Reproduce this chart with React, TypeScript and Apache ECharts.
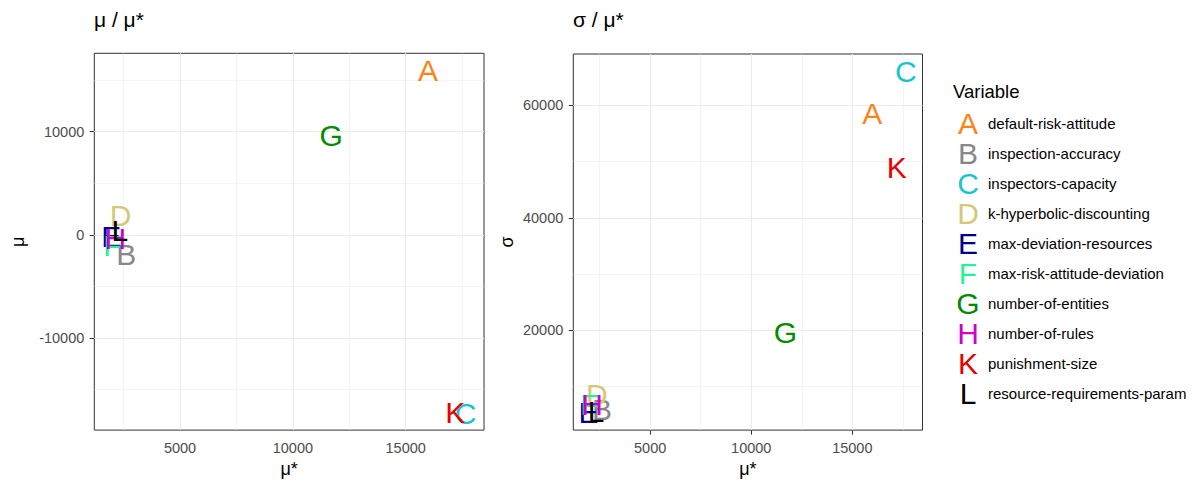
import React, { useEffect, useRef } from 'react';
import * as echarts from 'echarts';

const letters = ['A', 'B', 'C', 'D', 'E', 'F', 'G', 'H', 'K', 'L'];
const variables = [
  'default-risk-attitude',
  'inspection-accuracy',
  'inspectors-capacity',
  'k-hyperbolic-discounting',
  'max-deviation-resources',
  'max-risk-attitude-deviation',
  'number-of-entities',
  'number-of-rules',
  'punishment-size',
  'resource-requirements-param',
];
const colors = ['#FA8418', '#888888', '#17C6CC', '#D3C97A', '#000088', '#22F29A', '#008B00', '#CD00CD', '#E80000', '#000000'];

const muStar = [15990, 2620, 17650, 2360, 1950, 2000, 11695, 2130, 17200, 2330];
const mu = [15885, -1914, -17320, 1914, -140, -1000, 9665, -380, -17225, 430];
const sigma = [58630, 5900, 66100, 8500, 5300, 6800, 19600, 6850, 48915, 5540];

const xTicks = [5000, 10000, 15000];
const xMinor = [2500, 7500, 12500, 17500];
const muTicks = [-10000, 0, 10000];
const muMinor = [-15000, -5000, 5000, 15000];
const sigmaTicks = [20000, 40000, 60000];
const sigmaMinor = [10000, 30000, 50000];

const xRange = [1200, 18470];
const muRange = [-18919, 17579];
const sigmaRange = [2255, 69141];

const FONT = '"Liberation Sans", Arial, sans-serif';

function makeXAxis(gridIndex: number) {
  return {
    gridIndex,
    type: 'value',
    min: xRange[0],
    max: xRange[1],
    name: 'μ*',
    nameLocation: 'middle',
    nameGap: 27,
    nameTextStyle: { fontSize: 18, color: '#000', fontFamily: FONT },
    axisLine: { show: false },
    axisTick: { show: true, length: 4.5, lineStyle: { color: '#333', width: 1 }, customValues: xTicks },
    axisLabel: { customValues: xTicks, color: '#4d4d4d', fontSize: 14.5, fontFamily: FONT, margin: 10, formatter: (v: number) => String(v) },
    splitLine: { show: false },
  };
}

function makeYAxis(gridIndex: number, name: string, range: number[], ticks: number[], gap: number) {
  return {
    gridIndex,
    type: 'value',
    min: range[0],
    max: range[1],
    name,
    nameLocation: 'middle',
    nameGap: gap,
    nameTextStyle: { fontSize: 18, color: '#000', fontFamily: FONT },
    axisLine: { show: false },
    axisTick: { show: true, length: 4.5, lineStyle: { color: '#333', width: 1 }, customValues: ticks },
    axisLabel: { customValues: ticks, color: '#4d4d4d', fontSize: 14.5, fontFamily: FONT, margin: 10, formatter: (v: number) => String(v) },
    splitLine: { show: false },
  };
}

function gridLines(idx: number, xs: number[], ys: number[], width: number) {
  return {
    type: 'line',
    xAxisIndex: idx,
    yAxisIndex: idx,
    data: [],
    silent: true,
    z: 1,
    markLine: {
      silent: true,
      symbol: ['none', 'none'],
      label: { show: false },
      animation: false,
      lineStyle: { color: '#ebebeb', width, type: 'solid' },
      data: [...xs.map((v) => ({ xAxis: v })), ...ys.map((v) => ({ yAxis: v }))],
    },
  };
}

function letterSeries(idx: number, ys: number[]) {
  return {
    type: 'scatter',
    xAxisIndex: idx,
    yAxisIndex: idx,
    z: 5,
    symbolSize: 1,
    itemStyle: { color: 'rgba(0,0,0,0)' },
    data: muStar.map((x, i) => ({
      value: [x, ys[i]],
      label: { color: colors[i] },
    })),
    label: {
      show: true,
      position: 'inside',
      fontSize: 30,
      fontFamily: FONT,
      opacity: 1,
      textBorderWidth: 0,
      textBorderColor: 'transparent',
      textShadowBlur: 0,
      formatter: (p: any) => letters[p.dataIndex],
    },
    labelLayout: { hideOverlap: false },
  };
}

export default function App() {
  const ref = useRef<HTMLDivElement>(null);
  useEffect(() => {
    if (!ref.current) return;
    const chart = echarts.init(ref.current, undefined, { renderer: 'svg' });
    const legendEls: any[] = [
      {
        type: 'text',
        left: 953,
        top: 82,
        style: { text: 'Variable', fontSize: 18.5, fill: '#000', fontFamily: FONT },
      },
    ];
    letters.forEach((l, i) => {
      legendEls.push({
        type: 'text',
        x: 968,
        y: 123 + 30.1 * i,
        style: { text: l, fontSize: 30, fill: colors[i], fontFamily: FONT, align: 'center', verticalAlign: 'middle' },
      });
      legendEls.push({
        type: 'text',
        x: 988,
        y: 123 + 30.1 * i,
        style: { text: variables[i], fontSize: 15, fill: '#000', fontFamily: FONT, align: 'left', verticalAlign: 'middle' },
      });
    });
    chart.setOption({
      animation: false,
      backgroundColor: '#fff',
      textStyle: { fontFamily: FONT },
      title: [
        { text: 'μ / μ*', left: 94, top: 9, padding: 0, textStyle: { fontSize: 21, fontWeight: 'normal', color: '#000', fontFamily: FONT } },
        { text: 'σ / μ*', left: 573, top: 9, padding: 0, textStyle: { fontSize: 21, fontWeight: 'normal', color: '#000', fontFamily: FONT } },
      ],
      grid: [
        { left: 94.3, top: 53.3, width: 389.7, height: 381.4, show: true, borderColor: '#333', borderWidth: 1, backgroundColor: 'transparent' },
        { left: 573.3, top: 54, width: 349.2, height: 385, show: true, borderColor: '#333', borderWidth: 1, backgroundColor: 'transparent' },
      ],
      xAxis: [makeXAxis(0), makeXAxis(1)],
      yAxis: [
        makeYAxis(0, 'μ', muRange, muTicks, 67),
        makeYAxis(1, 'σ', sigmaRange, sigmaTicks, 57),
      ],
      series: [
        gridLines(0, xMinor, muMinor, 0.55),
        gridLines(0, xTicks, muTicks, 1.1),
        gridLines(1, xMinor, sigmaMinor, 0.55),
        gridLines(1, xTicks, sigmaTicks, 1.1),
        letterSeries(0, mu),
        letterSeries(1, sigma),
      ],
      graphic: legendEls,
    });
    return () => chart.dispose();
  }, []);
  return <div ref={ref} style={{ position: 'fixed', left: 0, top: 0, width: 1196, height: 483 }} />;
}
